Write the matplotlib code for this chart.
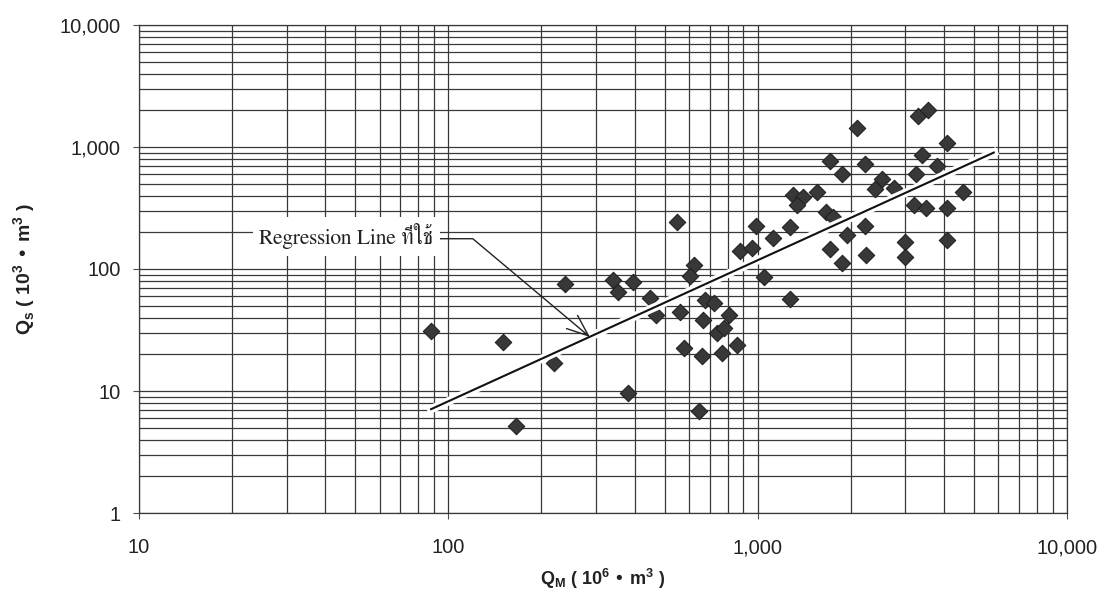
import matplotlib
matplotlib.use("Agg")
import matplotlib.pyplot as plt
import matplotlib.patheffects as pe
from matplotlib.ticker import LogLocator, FuncFormatter, NullFormatter

# ---------------- data ----------------
qm = [88, 150, 166, 220, 238, 340, 355, 395, 380, 448, 550, 625, 605, 560, 470,
      675, 725, 665, 810, 740, 780, 580, 660, 765, 860, 645,
      1050, 1270, 1120, 985, 1270, 880, 960,
      1300, 1400, 1550, 1340, 1660, 1750, 2090,
      1720, 2220, 1880, 2520, 2400, 2770,
      1940, 2220, 1720, 1880, 2240,
      3300, 3550, 4100, 3400, 3250, 3800,
      4600, 3200, 3500, 4100, 3000, 3000, 4100]
qs = [31, 25, 5.2, 17, 75, 81, 65, 78, 9.7, 58, 244, 108, 88, 44, 42,
      56, 53, 38, 42, 30, 33, 22.5, 19.5, 20.5, 24, 6.8,
      86, 57, 180, 225, 220, 140, 150,
      405, 390, 430, 335, 295, 268, 1430,
      770, 725, 600, 545, 455, 460,
      190, 225, 146, 112, 130,
      1800, 2000, 1080, 860, 600, 700,
      430, 335, 315, 315, 165, 125, 172]
reg_x = [88, 5800]
reg_y = [7.1, 900]
arrow_target = (287, 27.7)
label_pos = (24.5, 186)
label_text = "Regression Line ที่ใช้"
xlim = (10, 10000)
ylim = (1, 10000)

plt.rcParams['font.family'] = ['Liberation Sans', 'DejaVu Sans']

fig = plt.figure(figsize=(11.02, 5.95), dpi=100)
ax = fig.add_axes([0.1261, 0.1378, 0.8421, 0.8202])
ax.set_xscale('log')
ax.set_yscale('log')
ax.set_xlim(*xlim)
ax.set_ylim(*ylim)

ax.xaxis.set_major_locator(LogLocator(base=10))
ax.yaxis.set_major_locator(LogLocator(base=10))
ax.xaxis.set_minor_locator(LogLocator(base=10, subs=range(2, 10)))
ax.yaxis.set_minor_locator(LogLocator(base=10, subs=range(2, 10)))
fmt = FuncFormatter(lambda v, p: f"{v:,.0f}")
ax.xaxis.set_major_formatter(fmt)
ax.yaxis.set_major_formatter(fmt)
ax.xaxis.set_minor_formatter(NullFormatter())
ax.yaxis.set_minor_formatter(NullFormatter())

ax.grid(True, which='both', color='0.22', lw=0.9)
ax.set_axisbelow(True)
ax.tick_params(which='major', length=4, width=0.8, color='0.3',
               labelsize=14.5, labelcolor='#222222')
ax.tick_params(axis='x', which='major', pad=14)
ax.tick_params(axis='y', which='major', pad=9)
ax.tick_params(which='minor', length=0)
for s in ax.spines.values():
    s.set_color('0.22')
    s.set_linewidth(0.9)

ax.scatter(qm, qs, marker='D', s=70, facecolor='#383838', edgecolor='#222222',
           linewidths=0.8, zorder=3)

ax.plot(reg_x, reg_y, color='#111111', lw=1.5, zorder=4,
        path_effects=[pe.Stroke(linewidth=6, foreground='white'), pe.Normal()])

serif_family = ['FreeSerif', 'Liberation Serif', 'DejaVu Sans']
ax.annotate(label_text, xy=arrow_target, xytext=label_pos, textcoords='data',
            fontsize=15.5, family=serif_family, color='#222222', va='center', ha='left',
            bbox=dict(boxstyle='square,pad=0.3', fc='white', ec='none'),
            arrowprops=dict(arrowstyle='->,head_length=1.0,head_width=0.4', color='#222222',
                            lw=1.0, relpos=(1.0, 0.4), shrinkA=0, shrinkB=0,
                            connectionstyle='angle,angleA=0,angleB=-40,rad=0'),
            zorder=5)

ax.set_xlabel(r"Q$_\mathregular{M}$ ( 10$^\mathregular{6}$ • m$^\mathregular{3}$ )",
              fontsize=13, fontweight='bold', color='#222222', labelpad=7)
ax.set_ylabel(r"Q$_\mathregular{s}$ ( 10$^\mathregular{3}$ • m$^\mathregular{3}$ )",
              fontsize=14, fontweight='bold', color='#222222', labelpad=16)

fig.savefig("out.png", dpi=100, facecolor='white')
